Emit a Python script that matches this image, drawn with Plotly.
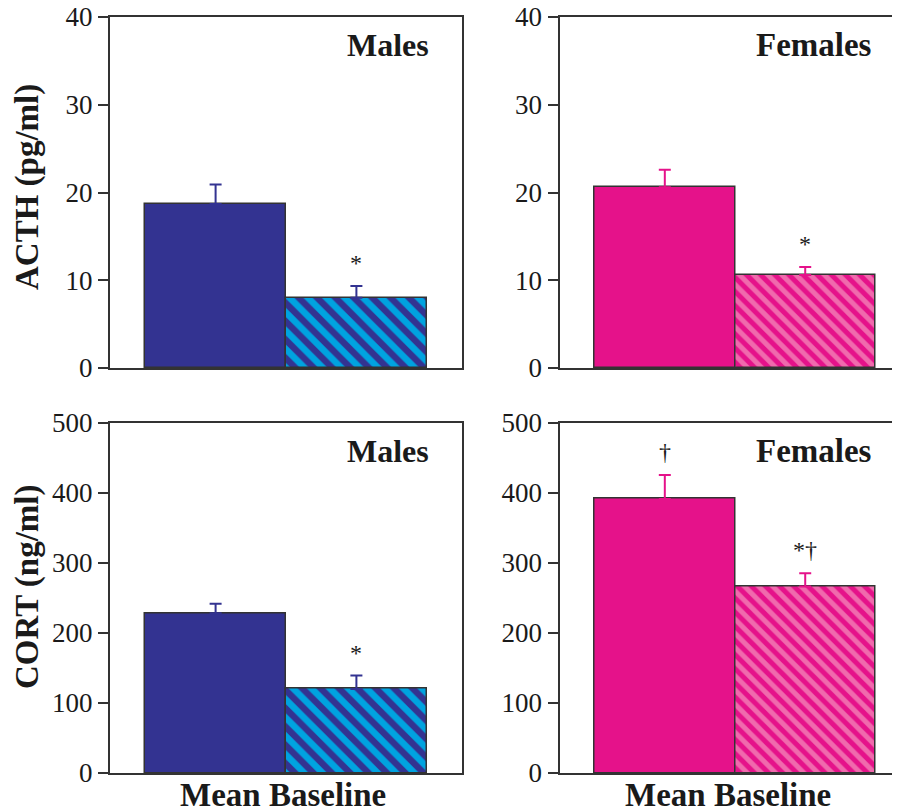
import plotly.graph_objects as go
from plotly.subplots import make_subplots

# ---------------- data ----------------
conditions = ["Solid", "Hatched"]
acth_male = [18.7, 8.0]
acth_male_err = [2.2, 1.35]
acth_female = [20.6, 10.6]
acth_female_err = [2.0, 0.9]
cort_male = [228, 120]
cort_male_err = [13.5, 19]
cort_female = [391, 266]
cort_female_err = [34, 19]
acth_ticks = [0, 10, 20, 30, 40]
cort_ticks = [0, 100, 200, 300, 400, 500]
acth_male_marks = ["", "*"]
acth_female_marks = ["", "*"]
cort_male_marks = ["", "*"]
cort_female_marks = ["\u2020", "*\u2020"]
panel_labels = ["Males", "Females", "Males", "Females"]
y_titles = ["ACTH (pg/ml)", "CORT (ng/ml)"]
x_title = "Mean Baseline"

# ---------------- styles ----------------
FONT = "Liberation Serif, Times New Roman, serif"
LINE = "#333333"
TEXT = "#1a1a1a"
male_dark = "#333391"
male_light = "#00a3e0"
fem_dark = "#e5128a"
fem_light = "#f06aad"

# page body has an 8px margin; size the figure so it fits the window
OFF = 8
W, H = 900 - OFF, 809 - OFF


def xp(px):
    return (px - OFF) / W


def yp(py):
    return 1 - (py - OFF) / H


fig = make_subplots(rows=2, cols=2)

x = list(range(len(conditions)))

panels = [
    (1, 1, acth_male, acth_male_err, male_dark, male_light, 13, acth_male_marks, "x", "y"),
    (1, 2, acth_female, acth_female_err, fem_dark, fem_light, 10, acth_female_marks, "x2", "y2"),
    (2, 1, cort_male, cort_male_err, male_dark, male_light, 13, cort_male_marks, "x3", "y3"),
    (2, 2, cort_female, cort_female_err, fem_dark, fem_light, 10, cort_female_marks, "x4", "y4"),
]

for i, (r, c, vals, errs, dark, light, psize, marks, xr, yr) in enumerate(panels):
    for k in range(len(x)):
        hatched = k == 1
        marker = dict(color=light if hatched else dark, line=dict(color=LINE, width=1.5))
        if hatched:
            marker["pattern"] = dict(shape="\\", fillmode="overlay", fgcolor=dark,
                                     bgcolor=light, fgopacity=1, size=psize, solidity=0.5)
        fig.add_trace(
            go.Bar(
                x=[x[k]],
                y=[vals[k]],
                width=1,
                marker=marker,
                error_y=dict(type="data", symmetric=False, array=[errs[k]],
                             arrayminus=[0], color=dark, thickness=2, width=6),
                showlegend=False,
            ),
            row=r, col=c,
        )
    for xi, v, e, m in zip(x, vals, errs, marks):
        if m:
            fig.add_annotation(
                x=xi, y=v + e, xref=xr, yref=yr, text=m, showarrow=False,
                xanchor="center", yanchor="bottom", yshift=8,
                font=dict(family=FONT, size=24, color=TEXT),
            )
    fig.add_annotation(
        x=0.912 if c == 1 else 0.925, y=0.92, xref=xr + " domain", yref=yr + " domain",
        text="<b>%s</b>" % panel_labels[i], showarrow=False,
        xanchor="right", yanchor="middle",
        font=dict(family=FONT, size=32 if c == 1 else 33, color=TEXT),
    )

left_dom = [xp(110), xp(462)]
right_dom = [xp(559.5), 1.0]
top_dom = [yp(368), yp(17)]
bot_dom = [yp(773), yp(422.5)]

xcommon = dict(showline=True, linecolor=LINE, linewidth=2, mirror=True,
               showticklabels=False, ticks="", showgrid=False, zeroline=False)
ycommon = dict(showline=True, linecolor=LINE, linewidth=2, ticks="outside",
               ticklen=10, tickwidth=2, tickcolor=LINE, showgrid=False,
               zeroline=False, ticklabeloverflow="allow",
               tickfont=dict(family=FONT, size=27, color=TEXT))

fig.update_layout(
    xaxis=dict(domain=left_dom, range=[-0.75, 1.75], **xcommon),
    xaxis2=dict(domain=right_dom, range=[-0.75, 1.675], **xcommon),
    xaxis3=dict(domain=left_dom, range=[-0.75, 1.75], **xcommon),
    xaxis4=dict(domain=right_dom, range=[-0.75, 1.675], **xcommon),
    yaxis=dict(domain=top_dom, range=[0, 40], tickvals=acth_ticks, mirror=True, **ycommon),
    yaxis2=dict(domain=top_dom, range=[0, 40], tickvals=acth_ticks, mirror=False, **ycommon),
    yaxis3=dict(domain=bot_dom, range=[0, 500], tickvals=cort_ticks, mirror=True, **ycommon),
    yaxis4=dict(domain=bot_dom, range=[0, 500], tickvals=cort_ticks, mirror=False, **ycommon),
    width=W, height=H,
    margin=dict(l=0, r=0, t=0, b=0, autoexpand=False),
    paper_bgcolor="white", plot_bgcolor="white",
    barmode="overlay",
    bargap=0,
)

# y-axis titles
for txt, yc in zip(y_titles, [187, 587]):
    fig.add_annotation(x=xp(27), y=yp(yc), xref="paper", yref="paper",
                       text="<b>%s</b>" % txt, textangle=-90, showarrow=False,
                       xanchor="center", yanchor="middle",
                       font=dict(family=FONT, size=33, color=TEXT))
# x titles
for xc in [283, 728]:
    fig.add_annotation(x=xp(xc), y=yp(795), xref="paper", yref="paper",
                       text="<b>%s</b>" % x_title, showarrow=False,
                       xanchor="center", yanchor="middle",
                       font=dict(family=FONT, size=33, color=TEXT))

fig.write_html("out.html")
